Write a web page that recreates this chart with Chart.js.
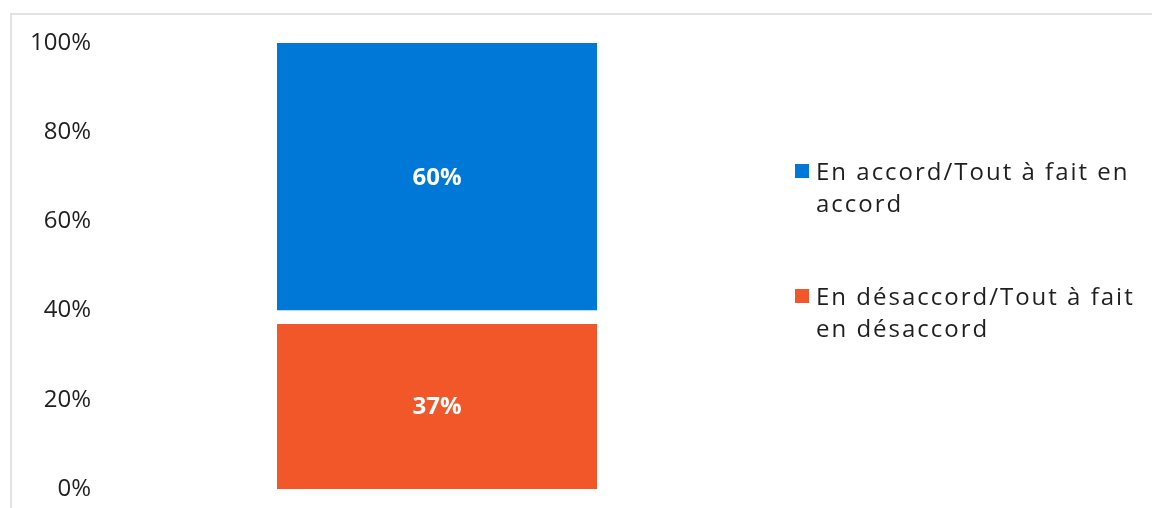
<!DOCTYPE html>
<html lang="fr">
<head>
<meta charset="utf-8">
<title>Accord / désaccord</title>
<script src="https://cdn.jsdelivr.net/npm/chart.js@4.4.1/dist/chart.umd.min.js"></script>
<style>
  html, body { margin: 0; padding: 0; background: #fff; overflow: hidden; }
  body { width: 1152px; height: 508px; position: relative; font-family: "Open Sans", sans-serif; }
  .frame { position: absolute; left: 10px; top: 13px; width: 1300px; height: 700px;
           border-left: 2px solid #e2e2e2; border-top: 2px solid #e2e2e2; }
  .chart-box { position: absolute; left: 0; top: 0; width: 1152px; height: 508px; }
  #legend { position: absolute; left: 795px; top: 0; color: #1f1f1f; font-size: 24px; line-height: 32px; letter-spacing: 2px; }
  .lg-item { position: absolute; left: 0; display: flex; white-space: nowrap; }
  .lg-box { width: 14px; height: 14px; margin-top: 9px; margin-right: 7px; flex: none; }
</style>
</head>
<body>
<div class="frame"></div>
<div class="chart-box"><canvas id="accordChart"></canvas></div>
<div id="legend"></div>

<script>
/* ── DONNÉES ── */
const categories = [''];
const labelDesaccord = ['En désaccord/Tout à fait', 'en désaccord'];
const labelAccord = ['En accord/Tout à fait en', 'accord'];
const valDesaccord = [37];
const valSansReponse = [3];
const valAccord = [60];
const yTickStep = 20;

const COLOR_ACCORD = '#0078d7';
const COLOR_DESACCORD = '#f2572a';
const TEXT_COLOR = '#1f1f1f';
const FONT = '"Open Sans", sans-serif';

/* ── ÉTIQUETTES DANS LES BARRES ── */
const valueLabels = {
  id: 'valueLabels',
  afterDatasetsDraw(chart) {
    const ctx = chart.ctx;
    ctx.save();
    ctx.fillStyle = '#fff';
    ctx.font = `bold 24px ${FONT}`;
    ctx.textAlign = 'center';
    ctx.textBaseline = 'middle';
    chart.data.datasets.forEach((ds, i) => {
      if (!ds.showValue) return;
      chart.getDatasetMeta(i).data.forEach((bar, j) => {
        const v = ds.data[j];
        ctx.fillText(`${v}%`, bar.x, (bar.y + bar.base) / 2 + 1);
      });
    });
    ctx.restore();
  }
};

const ctx = document.getElementById('accordChart').getContext('2d');
const accordChart = new Chart(ctx, {
  type: 'bar',
  data: {
    labels: categories,
    datasets: [
      { label: labelDesaccord, data: valDesaccord, backgroundColor: COLOR_DESACCORD, showValue: true, inLegend: true },
      { label: 'Sans réponse', data: valSansReponse, backgroundColor: '#ffffff', showValue: false, inLegend: false },
      { label: labelAccord, data: valAccord, backgroundColor: COLOR_ACCORD, showValue: true, inLegend: true }
    ]
  },
  options: {
    responsive: true, maintainAspectRatio: false, animation: false,
    layout: { padding: { top: 43, bottom: 19, left: 0, right: 372 } },
    datasets: { bar: { categoryPercentage: 1, barPercentage: 0.4665, borderWidth: 0 } },
    plugins: { legend: { display: false }, tooltip: { enabled: false } },
    scales: {
      x: { stacked: true, display: false },
      y: {
        stacked: true, min: 0, max: 100,
        grid: { display: false, drawTicks: false }, border: { display: false },
        afterFit: s => { s.width = 94; },
        ticks: { stepSize: yTickStep, padding: 3, color: TEXT_COLOR, font: { family: FONT, size: 24 },
                 callback: v => `${v}%` }
      }
    }
  },
  plugins: [valueLabels]
});

/* ── LÉGENDE ── */
function renderLegend(chart) {
  const tops = [155, 280];
  const items = chart.data.datasets.filter(d => d.inLegend).reverse();
  document.getElementById('legend').innerHTML = items.map((d, i) =>
    `<div class="lg-item" style="top:${tops[i]}px">
      <span class="lg-box" style="background:${d.backgroundColor}"></span>
      <span>${d.label.join('<br>')}</span>
    </div>`).join('');
}
renderLegend(accordChart);
</script>
</body>
</html>
